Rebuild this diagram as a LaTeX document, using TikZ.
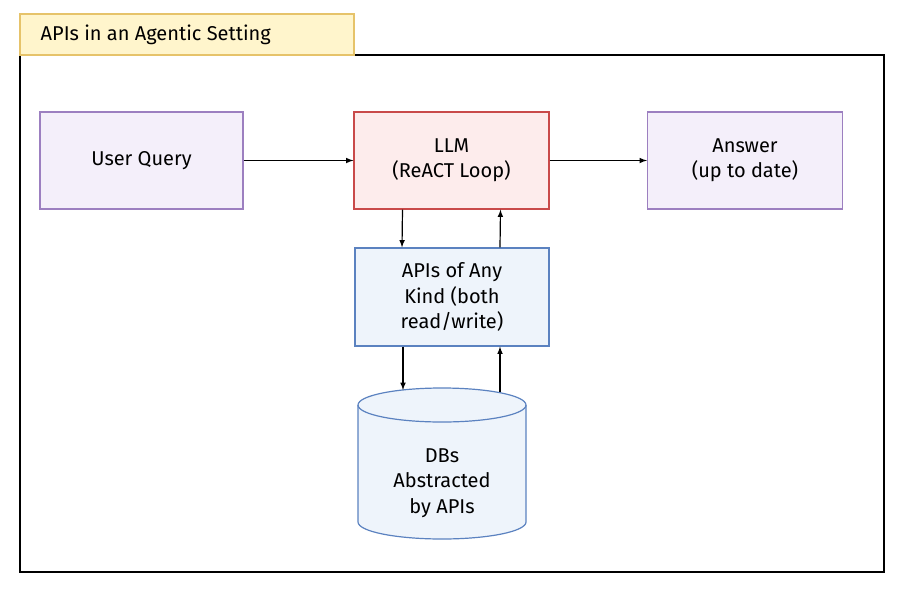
\documentclass[tikz,border=0pt]{standalone}
\usepackage{fontspec}
\setmainfont{Fira Sans}
\begin{document}
\begin{tikzpicture}[x=0.75pt,y=-0.75pt,
  box/.style={draw, line width=0.9pt, minimum width=195*0.75pt, minimum height=97*0.75pt, align=center, font=\fontsize{15}{19}\selectfont},
  purp/.style={box, draw=pborder, fill=pfill},
  arr/.style={-latex, line width=0.9pt}]
\definecolor{pborder}{HTML}{9C7FC0}\definecolor{pfill}{HTML}{F4EFFA}
\definecolor{rborder}{HTML}{C94A4A}\definecolor{rfill}{HTML}{FDECEC}
\definecolor{bborder}{HTML}{5B82C0}\definecolor{bfill}{HTML}{EEF4FB}
\definecolor{yborder}{HTML}{E6C36A}\definecolor{yfill}{HTML}{FFF5CC}
\useasboundingbox (0,0) rectangle (904,590);
\draw[line width=0.9pt] (20,55) rectangle (884,572);
\node[draw=yborder, fill=yfill, line width=0.9pt, minimum width=334*0.75pt, minimum height=41*0.75pt] (title) at (187,34.5) {};
\node[anchor=west, font=\fontsize{15}{19}\selectfont] (tt) at (36,34.5) {APIs in an Agentic Setting};
\node[purp, minimum width=203*0.75pt] (uq) at (141.5,160.5) {User Query};
\node[box, draw=rborder, fill=rfill] (llm) at (451.5,160.5) {LLM\\(ReACT Loop)};
\node[purp] (ans) at (745,160.5) {Answer\\(up to date)};
\node[box, draw=bborder, fill=bfill, minimum width=194*0.75pt, minimum height=98*0.75pt] (api) at (452,297) {APIs of Any\\Kind (both\\read/write)};
% cylinder
\draw[bborder, fill=bfill, line width=0.9pt] (358,405) -- (358,522) arc[start angle=180, end angle=0, x radius=84, y radius=17] -- (526,405) arc[start angle=0, end angle=-180, x radius=84, y radius=17] -- cycle;
\draw[bborder, line width=0.9pt] (358,405) arc[start angle=180, end angle=0, x radius=84, y radius=17];
\node[align=center, font=\fontsize{15}{19}\selectfont] (db) at (442,483) {DBs\\Abstracted\\by APIs};
\draw[arr] (uq.east) -- (llm.west);
\draw[arr] (llm.east) -- (ans.west);
\draw[arr] ([xshift=-49*0.75pt]llm.south) -- ([xshift=-50*0.75pt]api.north);
\draw[arr] ([xshift=48*0.75pt]api.north) -- ([xshift=49*0.75pt]llm.south);
\draw[arr] ([xshift=-49*0.75pt]api.south) -- (403,390);
\draw[arr] (500,392) -- ([xshift=48*0.75pt]api.south);
\end{tikzpicture}
\end{document}
